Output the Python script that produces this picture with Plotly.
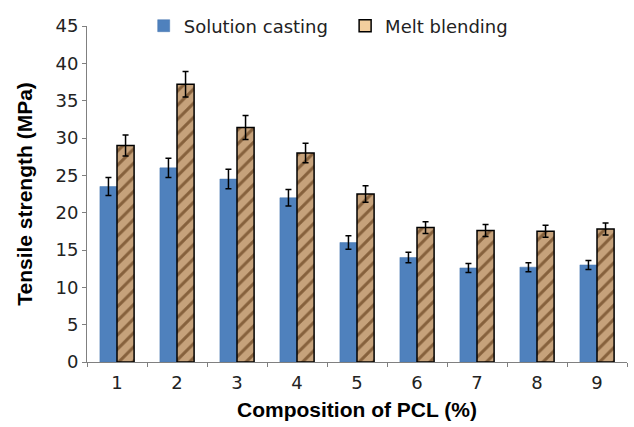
import plotly.graph_objects as go

# Composition of PCL (%) categories
compositions = ["1", "2", "3", "4", "5", "6", "7", "8", "9"]

# Tensile strength (MPa) for each processing route
solution_casting = [23.5, 26.0, 24.5, 22.0, 16.0, 14.0, 12.6, 12.7, 13.0]
solution_err = [1.2, 1.3, 1.3, 1.1, 0.9, 0.7, 0.6, 0.6, 0.6]
melt_blending = [29.0, 37.2, 31.4, 28.0, 22.5, 18.0, 17.6, 17.5, 17.8]
melt_err = [1.4, 1.7, 1.6, 1.3, 1.1, 0.8, 0.8, 0.8, 0.8]

y_ticks = list(range(0, 46, 5))

tick_font = "DejaVu Sans, sans-serif"
title_font = "Liberation Sans, Arial, sans-serif"

fig = go.Figure()
fig.add_trace(go.Bar(
    name="Solution casting",
    x=compositions,
    y=solution_casting,
    offsetgroup="sc",
    legend="legend",
    marker=dict(color="#4F81BD", line=dict(color="#4677B0", width=0.5)),
    error_y=dict(type="data", array=solution_err, color="black", thickness=1.5, width=3),
))
fig.add_trace(go.Bar(
    name="Melt blending",
    x=compositions,
    y=melt_blending,
    offsetgroup="mb",
    showlegend=False,
    marker=dict(
        color="#BE9872",
        line=dict(color="black", width=1.5),
        pattern=dict(shape="/", fgcolor="#86613C", bgcolor="#C6A27B", size=10, solidity=0.3, fillmode="replace"),
    ),
    error_y=dict(type="data", array=melt_err, color="black", thickness=1.5, width=3),
))
# legend entry for the melt-blended series, shown with a light tan swatch
fig.add_trace(go.Bar(
    name="Melt blending",
    x=[compositions[0]],
    y=[None],
    offsetgroup="mb",
    legend="legend2",
    marker=dict(color="#F3CE9E", line=dict(color="black", width=1.5)),
))

legend_style = dict(
    orientation="h",
    y=1.0, yanchor="middle",
    xanchor="left",
    font=dict(size=18, family=tick_font, color="#222222"),
    bgcolor="rgba(0,0,0,0)",
    itemwidth=30,
)

fig.update_layout(
    width=634,
    height=427,
    barmode="group",
    bargap=0.43,
    bargroupgap=0,
    plot_bgcolor="white",
    paper_bgcolor="white",
    margin=dict(l=87, r=7, t=24, b=65),
    font=dict(family=tick_font, color="black"),
    legend=dict(x=0.105, **legend_style),
    legend2=dict(x=0.478, **legend_style),
    xaxis=dict(
        title=dict(text="<b>Composition of PCL (%)</b>", font=dict(size=21, family=title_font), standoff=10),
        showline=True, linecolor="#808080", linewidth=1,
        ticks="outside", ticklen=4, tickcolor="#808080", tickson="boundaries",
        ticklabelstandoff=4,
        tickfont=dict(size=18, color="#222222"),
        showgrid=False,
    ),
    yaxis=dict(
        title=dict(text="<b>Tensile strength (MPa)</b>", font=dict(size=21, family=title_font), standoff=17),
        range=[0, 45],
        tickvals=y_ticks,
        showline=True, linecolor="#808080", linewidth=1,
        ticks="outside", ticklen=4, tickcolor="#808080",
        tickfont=dict(size=18, color="#222222"),
        showgrid=False, zeroline=False,
    ),
)

fig.write_html("out.html")
